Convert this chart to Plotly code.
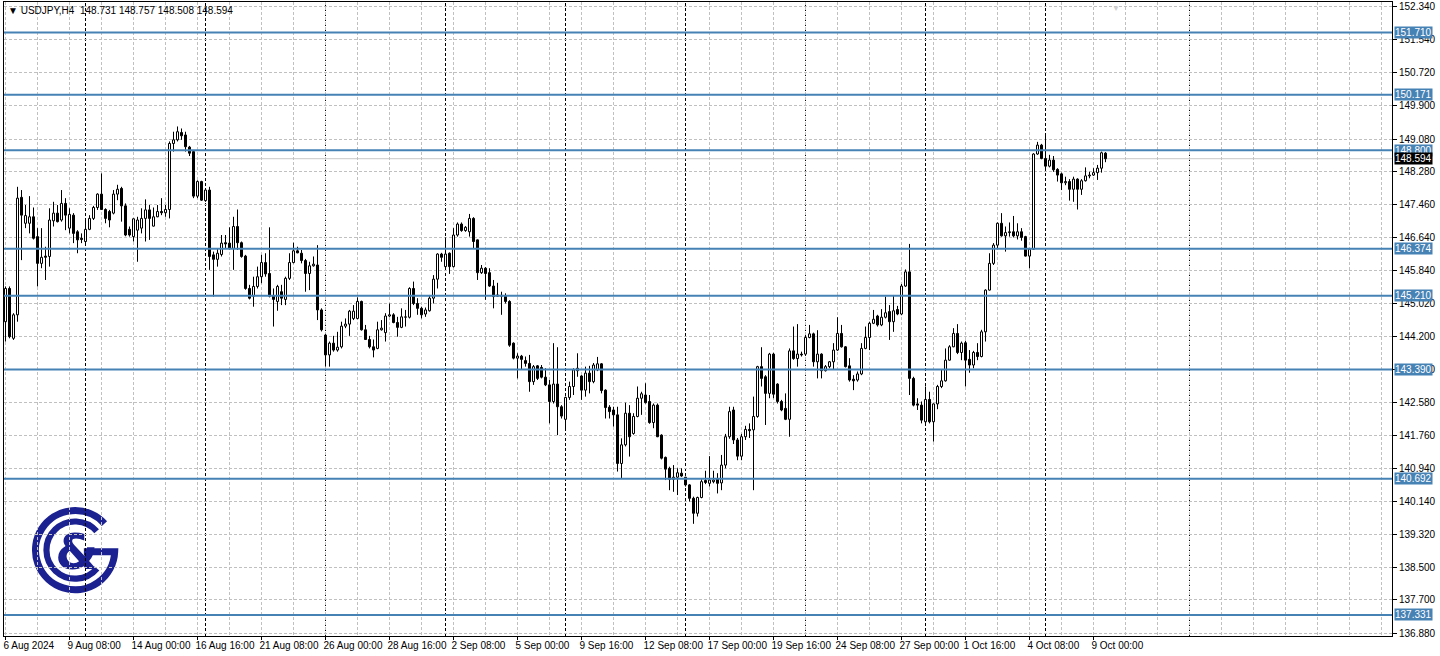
import base64
import plotly.graph_objects as go

# ---------------- data (USDJPY H4) ----------------
symbol_title = "USDJPY,H4\u00a0\u00a0148.731 148.757 148.508 148.594"

open_ = [
144.57,145.39,144.16,144.74,147.64,147.00,147.00,147.16,146.67,146.01,
146.19,146.18,147.06,147.25,147.08,147.49,146.88,147.20,146.79,146.63,
146.55,146.85,147.12,147.39,147.72,147.34,147.29,147.25,147.72,147.86,
147.43,146.85,146.67,146.83,146.88,147.12,147.33,146.93,147.16,147.29,
147.26,147.34,148.97,149.06,149.24,149.18,148.88,148.77,147.67,148.03,
147.56,147.82,146.22,146.11,146.23,146.52,146.51,146.38,146.92,146.52,
146.19,145.39,145.20,145.44,145.68,146.03,145.76,145.20,145.07,145.31,
145.12,145.64,146.03,146.32,146.26,146.08,145.76,145.95,145.97,144.86,
144.24,143.75,144.04,143.87,143.95,144.46,144.51,144.65,144.65,145.07,
144.37,144.13,143.95,143.91,144.37,144.30,144.71,144.74,144.55,144.43,
144.68,144.68,145.39,145.02,144.90,144.76,144.84,145.15,145.62,146.24,
145.93,146.26,145.93,146.71,146.98,146.82,146.79,147.12,146.59,145.78,
145.89,145.78,145.45,145.20,145.20,145.20,145.07,144.04,143.67,143.72,
143.61,143.54,143.09,143.48,143.44,143.20,143.01,142.60,143.03,142.47,
142.16,142.70,142.97,143.36,143.23,142.88,143.30,143.09,143.38,143.53,
142.88,142.46,142.39,142.27,141.07,141.53,142.31,141.81,142.23,142.68,
142.76,142.60,142.08,142.51,141.77,141.22,140.95,140.68,140.73,140.83,
140.73,140.54,140.21,139.84,140.23,140.65,140.58,140.62,140.69,140.59,
141.03,141.73,142.39,141.65,141.25,141.73,141.91,141.90,142.23,143.46,
143.21,142.80,143.77,143.03,142.60,142.43,142.16,143.85,143.66,143.77,
143.77,144.18,144.27,143.58,143.77,143.36,143.46,143.58,143.87,144.28,
143.95,143.48,143.15,143.13,143.28,143.91,144.18,144.53,144.71,144.49,
144.68,144.82,144.57,144.87,144.76,145.45,145.80,143.17,142.54,142.51,
142.10,142.65,142.10,142.54,142.97,143.11,143.62,143.95,144.28,143.81,
144.05,143.64,143.50,143.81,143.71,144.32,145.35,146.01,146.46,147.00,
146.69,146.77,146.79,146.69,146.79,146.67,146.19,146.36,148.71,148.93,
148.60,148.41,148.56,148.33,148.22,148.00,148.03,147.84,148.09,147.84,
148.05,148.17,148.19,148.25,148.36,148.731]

high = [
145.44,145.44,144.78,147.90,147.82,147.45,147.67,147.39,146.88,146.88,
146.42,147.37,147.53,147.45,147.82,147.62,147.37,147.25,146.83,146.75,
147.10,147.20,147.43,147.74,148.23,147.37,147.33,147.82,147.95,147.90,
147.49,146.92,147.12,147.16,147.37,147.59,147.45,147.39,147.45,147.62,
147.45,149.02,149.26,149.39,149.34,149.26,148.91,148.80,148.06,148.05,
147.86,147.90,146.30,146.38,146.71,146.71,146.90,147.16,147.34,146.55,
146.22,145.48,145.68,145.93,146.22,146.26,146.90,145.39,145.48,145.48,
145.68,146.26,146.52,146.42,146.34,146.12,146.05,146.18,146.46,144.90,
144.27,144.08,144.22,144.32,144.57,144.65,144.86,144.98,145.17,145.09,
144.49,144.22,144.13,144.57,144.61,144.78,145.02,144.78,144.69,144.90,
144.86,145.42,145.56,145.15,144.94,144.92,145.23,145.72,146.26,146.27,
146.65,146.28,146.88,147.02,147.02,146.93,147.23,147.15,146.60,145.97,
145.92,145.89,145.60,145.53,145.31,145.27,145.10,144.06,143.79,143.75,
143.71,143.75,143.50,143.50,143.50,143.42,143.13,144.04,143.94,142.51,
142.72,143.09,143.42,143.79,143.25,143.46,143.48,143.55,143.70,143.55,
142.90,142.51,142.47,142.47,141.69,142.57,142.51,142.31,142.97,142.84,
143.05,142.76,142.55,142.55,141.79,141.24,140.99,141.03,140.95,140.95,
140.74,140.56,140.25,140.25,140.68,140.89,141.25,140.89,140.83,141.28,
141.80,142.47,142.47,141.70,141.80,142.00,142.06,142.72,143.48,143.94,
143.25,143.80,143.80,143.05,142.64,142.80,143.91,144.45,144.51,143.83,
144.22,144.49,144.30,144.36,143.79,143.50,143.60,144.04,144.68,144.49,
143.97,143.67,143.25,143.34,144.04,144.45,144.57,144.86,144.74,144.88,
145.19,144.98,145.23,144.96,145.50,145.86,146.49,143.21,142.68,142.60,
142.97,142.84,142.55,143.01,143.38,143.91,143.99,144.41,144.51,144.08,
144.10,143.87,143.85,144.04,144.37,145.37,146.26,146.51,147.02,147.25,
146.92,147.02,147.18,147.00,146.88,146.69,146.38,148.73,149.01,148.96,
149.20,148.69,148.66,148.36,148.25,148.15,148.09,148.15,148.11,148.09,
148.38,148.27,148.36,148.44,148.77,148.757]

low = [
144.08,144.16,144.12,144.57,146.09,146.88,146.75,146.60,145.44,145.89,
145.60,145.93,146.92,147.02,147.04,146.83,146.75,146.51,146.26,146.51,
146.46,146.83,147.08,147.33,147.33,147.00,146.90,147.22,147.57,147.04,
146.68,146.67,146.55,146.05,146.75,146.55,146.59,146.92,147.15,147.20,
147.16,147.12,148.77,149.02,149.06,148.77,148.66,147.62,147.62,147.55,
147.53,145.85,145.19,145.93,146.18,146.38,146.35,145.85,146.34,146.15,
145.36,145.12,144.94,145.39,145.52,145.68,145.17,144.45,144.84,144.98,
144.98,145.60,146.01,146.26,146.01,145.31,145.35,145.93,144.61,144.33,
143.46,143.46,143.83,143.83,143.91,144.41,144.22,144.61,144.63,144.35,
144.12,143.91,143.69,143.89,144.35,144.08,144.69,144.53,144.20,144.41,
144.45,144.65,144.98,144.74,144.65,144.69,144.82,145.02,145.39,146.05,
145.85,145.75,145.91,146.67,146.79,146.79,146.67,146.38,145.60,145.75,
145.11,145.43,144.90,145.19,144.74,145.02,143.95,143.64,143.17,143.38,
143.46,142.84,143.01,143.13,143.17,142.98,142.06,142.55,141.77,142.18,
141.90,142.64,142.76,143.21,142.64,142.72,142.80,143.05,143.35,142.80,
142.18,142.18,141.98,140.87,140.70,141.49,141.24,141.78,142.21,142.27,
142.55,142.05,141.94,141.72,141.17,140.66,140.41,140.37,140.29,140.74,
140.50,140.13,139.58,139.76,140.21,140.56,140.50,140.58,140.33,140.41,
140.95,141.68,141.55,141.15,141.15,141.65,141.70,140.41,142.20,142.97,
142.02,142.68,142.68,142.55,142.36,142.14,141.73,143.63,143.46,143.71,
143.74,144.16,143.46,143.17,143.17,143.34,143.42,143.38,143.85,143.93,
143.44,143.09,142.88,143.09,143.25,143.89,143.87,144.51,144.45,144.46,
144.65,144.12,144.32,144.73,144.73,145.43,142.76,142.48,142.39,142.06,
142.06,142.06,141.61,142.41,142.93,143.09,143.61,143.94,143.77,143.62,
142.97,143.31,143.42,143.62,143.69,144.08,145.34,145.97,146.36,146.67,
146.30,146.67,146.65,146.60,146.57,146.18,145.89,146.34,148.69,148.58,
148.32,148.38,148.27,148.03,147.82,147.94,147.56,147.53,147.34,147.70,
148.03,148.11,148.17,148.07,148.25,148.508]

close = [
145.39,144.20,144.74,147.62,147.20,147.19,147.16,146.63,146.01,146.16,
146.16,147.08,147.25,147.04,147.49,147.20,147.22,146.75,146.59,146.60,
146.85,147.12,147.39,147.72,147.34,147.12,147.08,147.72,147.84,147.43,
146.71,146.71,147.11,147.08,147.12,147.33,147.12,147.16,147.29,147.26,
147.34,148.97,149.06,149.26,149.16,148.89,148.73,147.67,148.03,147.57,
147.82,146.18,146.11,146.26,146.51,146.49,146.38,146.92,146.52,146.18,
145.39,145.15,145.44,145.68,146.03,145.75,145.20,145.12,145.44,145.15,
145.64,146.03,146.32,146.27,146.08,145.76,145.95,145.99,144.86,144.37,
143.75,144.04,143.87,143.94,144.46,144.51,144.83,144.83,145.07,144.37,
144.13,143.95,143.87,144.37,144.41,144.71,144.74,144.55,144.43,144.69,
144.69,145.39,145.02,144.90,144.74,144.86,145.15,145.62,146.24,146.16,
146.24,145.93,146.71,146.98,146.82,146.90,147.12,146.55,145.78,145.89,
145.76,145.45,145.19,145.23,145.22,145.07,143.99,143.67,143.72,143.64,
143.54,143.09,143.46,143.17,143.20,143.01,142.60,143.03,142.47,142.24,
142.70,142.97,143.38,143.42,142.88,143.30,143.09,143.50,143.53,142.87,
142.45,142.35,142.27,141.07,141.53,142.31,141.73,142.23,142.68,142.79,
142.57,142.08,142.51,141.73,141.20,140.93,140.68,140.73,140.84,140.76,
140.54,140.21,139.84,140.23,140.62,140.60,140.66,140.66,140.58,141.03,
141.73,142.35,141.65,141.25,141.73,141.91,141.88,142.23,143.46,143.17,
142.80,143.77,142.78,142.60,142.39,142.16,143.85,143.66,143.77,143.75,
144.18,144.27,143.58,143.77,143.36,143.46,143.58,143.87,144.28,143.95,
143.46,143.13,143.11,143.28,143.91,144.18,144.53,144.63,144.49,144.68,
144.79,144.57,144.84,144.76,145.45,145.80,143.17,142.51,142.51,142.14,
142.65,142.10,142.54,142.97,143.11,143.62,143.95,144.28,143.81,144.04,
143.62,143.50,143.81,143.71,144.32,145.35,146.01,146.46,147.00,146.69,
146.77,146.79,146.69,146.79,146.65,146.19,146.36,148.71,148.93,148.60,
148.41,148.56,148.32,148.19,148.00,148.03,147.84,148.09,147.84,148.05,
148.17,148.19,148.25,148.36,148.74,148.594]

# time-axis labels (one every 16 H4 bars, first at bar 0)
date_labels = ["6 Aug 2024", "9 Aug 08:00", "14 Aug 00:00", "16 Aug 16:00", "21 Aug 08:00",
               "26 Aug 00:00", "28 Aug 16:00", "2 Sep 08:00", "5 Sep 00:00", "9 Sep 16:00",
               "12 Sep 08:00", "17 Sep 00:00", "19 Sep 16:00", "24 Sep 08:00", "27 Sep 00:00",
               "1 Oct 16:00", "4 Oct 08:00", "9 Oct 00:00"]
bars_per_label = 16
bars_per_grid = 8
week_separator_bars = [20, 50, 80, 110, 140, 170, 200, 230, 260, 296]
visible_bars = 347

price_ticks = [152.340, 151.540, 150.720, 149.900, 149.080, 148.280, 147.460, 146.640, 145.840,
               145.020, 144.200, 143.380, 142.580, 141.760, 140.940, 140.140, 139.320, 138.500,
               137.700, 136.880]
levels = [151.710, 150.171, 148.800, 146.374, 145.210, 143.390, 140.692, 137.331]
bid_price = 148.594

# ---------------- styling ----------------
FONT = "Liberation Sans, Arial, sans-serif"
GRID = "#c0c0c0"
LEVEL_BLUE = "#4682b4"
NAVY = "#1b2190"

n = len(close)
idx = list(range(n))

bull_x, bull_base, bull_h = [], [], []
bear_x, bear_base, bear_h = [], [], []
wx, wy = [], []
for i in idx:
    o, h, l, c = open_[i], high[i], low[i], close[i]
    lo_b, hi_b = min(o, c), max(o, c)
    if c >= o:
        bull_x.append(i); bull_base.append(lo_b); bull_h.append(hi_b - lo_b)
    else:
        bear_x.append(i); bear_base.append(lo_b); bear_h.append(hi_b - lo_b)
    wx += [i, i, None, i, i, None]
    wy += [min(l, lo_b), lo_b, None, hi_b, max(h, hi_b), None]

fig = go.Figure()
fig.add_trace(go.Scatter(x=wx, y=wy, mode="lines", line=dict(color="black", width=1),
                         hoverinfo="skip", showlegend=False))
fig.add_trace(go.Bar(x=bull_x, y=bull_h, base=bull_base, width=0.5,
                     marker=dict(color="white", line=dict(color="black", width=1)),
                     hoverinfo="skip", showlegend=False))
fig.add_trace(go.Bar(x=bear_x, y=bear_h, base=bear_base, width=0.5,
                     marker=dict(color="black", line=dict(color="black", width=1)),
                     hoverinfo="skip", showlegend=False))

shapes = []
# weekly period separators
for sb in week_separator_bars:
    shapes.append(dict(type="line", xref="x", yref="paper", x0=sb, x1=sb, y0=0, y1=1,
                       line=dict(color="black", width=1, dash="3px,2px"), layer="below"))
# bid line
shapes.append(dict(type="line", xref="paper", yref="y", x0=0, x1=1, y0=bid_price, y1=bid_price,
                   line=dict(color="#c8c8c8", width=1), layer="below"))
# horizontal support/resistance levels
for lv in levels:
    shapes.append(dict(type="line", xref="paper", yref="y", x0=0, x1=1, y0=lv, y1=lv,
                       line=dict(color=LEVEL_BLUE, width=2), layer="above"))

annotations = []
for lv in levels:
    annotations.append(dict(x=1, xref="paper", xanchor="left", xshift=2, y=lv, yref="y",
                            yanchor="middle", text=f"{lv:.3f}", showarrow=False,
                            bgcolor=LEVEL_BLUE, borderpad=0,
                            font=dict(family=FONT, size=10, color="white")))
annotations.append(dict(x=1, xref="paper", xanchor="left", xshift=2, y=bid_price, yref="y",
                        yanchor="middle", text=f"{bid_price:.3f}", showarrow=False,
                        bgcolor="black", borderpad=0,
                        font=dict(family=FONT, size=10, color="white")))
annotations.append(dict(x=0, xref="paper", xanchor="left", xshift=2, y=1, yref="paper",
                        yanchor="top", yshift=-1, text="\u25bc " + symbol_title,
                        showarrow=False, font=dict(family=FONT, size=10, color="black")))
annotations.append(dict(x=n + 1.5, xref="x", xanchor="center", y=1, yref="paper",
                        yanchor="top", text="\u25bc", showarrow=False,
                        font=dict(family=FONT, size=8, color="#d0d0d0")))

# logo as inline SVG image
svg = f'''<svg xmlns="http://www.w3.org/2000/svg" width="100" height="100" viewBox="0 0 100 100">
<g fill="none" stroke="{NAVY}">
<path d="M 83.4 19.9 A 45 45 0 1 0 95 52 L 60 52" stroke-width="8"/>
<path d="M 74.5 28.7 A 32.5 32.5 0 1 0 74.9 70.9" stroke-width="7"/>
</g>
<text x="52" y="72" font-family="DejaVu Sans, sans-serif" font-weight="bold" font-size="56"
 text-anchor="middle" fill="{NAVY}">&amp;</text>
</svg>'''
logo_src = "data:image/svg+xml;base64," + base64.b64encode(svg.encode()).decode()

fig.update_layout(
    width=1440, height=656,
    margin=dict(l=4, r=48, t=2, b=20, autoexpand=False),
    paper_bgcolor="white", plot_bgcolor="white",
    barmode="overlay", hovermode=False, showlegend=False,
    shapes=shapes,
    annotations=annotations,
    images=[dict(source=logo_src, xref="paper", yref="paper", x=0.0195, y=0.205,
                 sizex=0.0634, sizey=0.1388, xanchor="left", yanchor="top",
                 sizing="stretch", layer="below")],
)

fig.update_xaxes(
    range=[-0.375, visible_bars - 0.375],
    tickmode="array",
    tickvals=[k * bars_per_label for k in range(len(date_labels))],
    ticktext=date_labels,
    tickangle=0, automargin=False,
    ticks="outside", ticklen=3, tickcolor="black",
    ticklabelposition="outside right", ticklabelshift=-3,
    tickfont=dict(family=FONT, size=10, color="black"),
    showgrid=True, gridcolor=GRID, griddash="3px,2px", gridwidth=1,
    minor=dict(tickvals=list(range(0, visible_bars, bars_per_grid)), showgrid=True,
               gridcolor=GRID, griddash="3px,2px", gridwidth=1, ticks=""),
    showline=True, linecolor="black", linewidth=1, mirror=True,
    zeroline=False, fixedrange=True,
)
fig.update_yaxes(
    range=[136.81, 152.463],
    side="right", automargin=False,
    tickmode="array", tickvals=price_ticks, ticktext=[f"{p:.3f}" for p in price_ticks],
    ticks="outside", ticklen=4, tickcolor="black",
    tickfont=dict(family=FONT, size=10, color="black"),
    showgrid=True, gridcolor=GRID, griddash="3px,2px", gridwidth=1,
    showline=True, linecolor="black", linewidth=1, mirror=True,
    zeroline=False, fixedrange=True,
)

fig.write_html("out.html", config={"displayModeBar": False},
               post_script="document.body.style.margin='0';document.body.style.overflow='hidden';")
